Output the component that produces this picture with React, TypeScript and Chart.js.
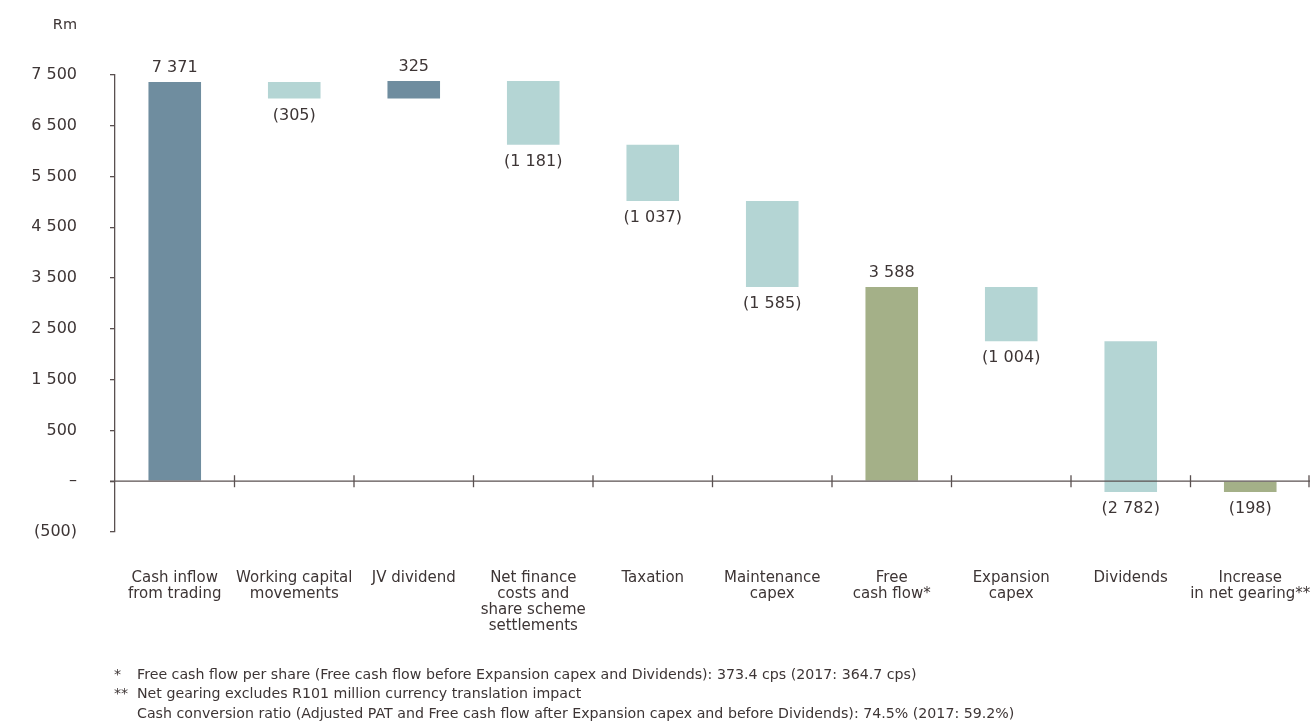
import React, { useEffect, useRef } from "react";
import { Chart, registerables } from "chart.js";

Chart.register(...registerables);

const categories: string[][] = [
  ["Cash inflow", "from trading"],
  ["Working capital", "movements"],
  ["JV dividend"],
  ["Net finance", "costs and", "share scheme", "settlements"],
  ["Taxation"],
  ["Maintenance", "capex"],
  ["Free", "cash flow*"],
  ["Expansion", "capex"],
  ["Dividends"],
  ["Increase", "in net gearing**"],
];
const changes = [7371, -305, 325, -1181, -1037, -1585, 3588, -1004, -2782, -198];
const kinds = ["inflow", "outflow", "inflow", "outflow", "outflow", "outflow", "total", "outflow", "outflow", "total"];
const tickStep = 937.5;
const tickLabels = ["(500)", "–", "500", "1 500", "2 500", "3 500", "4 500", "5 500", "6 500", "7 500"];
const unitLabel = "Rm";
const footnotes = [
  ["*", "Free cash flow per share (Free cash flow before Expansion capex and Dividends): 373.4 cps (2017: 364.7 cps)"],
  ["**", "Net gearing excludes R101 million currency translation impact"],
  ["", "Cash conversion ratio (Adjusted PAT and Free cash flow after Expansion capex and before Dividends): 74.5% (2017: 59.2%)"],
];

const COLORS: Record<string, string> = {
  inflow: "#6f8d9f",
  outflow: "#b4d5d4",
  total: "#a4b088",
};
const TEXT = "#3d3535";
const AXIS = "#5a5050";
const FONT = "'DejaVu Sans', sans-serif";

function fmt(v: number): string {
  const s = Math.abs(v).toString().replace(/\B(?=(\d{3})+(?!\d))/g, " ");
  return v < 0 ? `(${s})` : s;
}

function buildRanges(): [number, number][] {
  let run = 0;
  return changes.map((c, i) => {
    if (kinds[i] === "total") {
      run = c;
      return [0, c] as [number, number];
    }
    const start = run;
    run += c;
    return [start, run] as [number, number];
  });
}

export default function App() {
  const ref = useRef<HTMLCanvasElement | null>(null);
  useEffect(() => {
    if (!ref.current) return;
    const ranges = buildRanges();
    const overlay = {
      id: "overlay",
      afterDatasetsDraw(chart: any) {
        const ctx = chart.ctx;
        const x = chart.scales.x;
        const y = chart.scales.y;
        const y0 = y.getPixelForValue(0);
        ctx.save();
        // zero axis line
        ctx.strokeStyle = AXIS;
        ctx.lineWidth = 1.3;
        ctx.beginPath();
        ctx.moveTo(y.right - 5, y0);
        ctx.lineTo(chart.chartArea.right, y0);
        ctx.stroke();
        // boundary ticks
        for (let i = 1; i <= categories.length; i++) {
          const px = i < categories.length
            ? (x.getPixelForValue(i - 1) + x.getPixelForValue(i)) / 2
            : chart.chartArea.right - 1;
          ctx.beginPath();
          ctx.moveTo(px, y0 - 6);
          ctx.lineTo(px, y0 + 6);
          ctx.stroke();
        }
        // value labels
        const meta = chart.getDatasetMeta(0);
        ctx.fillStyle = TEXT;
        ctx.font = `16px ${FONT}`;
        ctx.textAlign = "center";
        meta.data.forEach((bar: any, i: number) => {
          const v = changes[i];
          const [a, b] = ranges[i];
          if (v >= 0) {
            ctx.textBaseline = "bottom";
            ctx.fillText(fmt(v), bar.x, y.getPixelForValue(Math.max(a, b)) - 6);
          } else {
            ctx.textBaseline = "top";
            ctx.fillText(fmt(v), bar.x, y.getPixelForValue(Math.min(a, b)) + 9);
          }
        });
        // unit label
        ctx.textAlign = "right";
        ctx.textBaseline = "middle";
        ctx.font = `14.5px ${FONT}`;
        ctx.fillText(unitLabel, 77, 25);
        // footnotes
        ctx.font = `14.2px ${FONT}`;
        ctx.textAlign = "left";
        footnotes.forEach((f, i) => {
          const yy = 675 + i * 19.5;
          ctx.fillText(f[0], 114, yy);
          ctx.fillText(f[1], 137, yy);
        });
        ctx.restore();
      },
    };
    const chart = new Chart(ref.current, {
      type: "bar",
      data: {
        labels: categories,
        datasets: [
          {
            data: ranges as any,
            backgroundColor: kinds.map((k) => COLORS[k]),
            borderWidth: 0,
            borderSkipped: false,
            barPercentage: 0.44,
            categoryPercentage: 1,
          },
        ],
      },
      options: {
        animation: false,
        responsive: true,
        maintainAspectRatio: false,
        layout: { padding: { top: 75, right: 3, left: 0, bottom: 0 } },
        plugins: { legend: { display: false }, tooltip: { enabled: false } },
        scales: {
          x: {
            grid: { display: false },
            border: { display: false },
            ticks: {
              color: TEXT,
              font: { family: FONT, size: 15, lineHeight: 16 / 15 } as any,
              padding: 30,
              maxRotation: 0,
              autoSkip: false,
            },
            afterFit: (s: any) => {
              s.height = 193;
              s.paddingLeft = 0;
              s.paddingRight = 0;
            },
          },
          y: {
            min: -tickStep,
            max: tickStep * 8,
            afterBuildTicks: (s: any) => {
              s.ticks = tickLabels.map((_, i) => ({ value: (i - 1) * tickStep }));
            },
            afterFit: (s: any) => {
              s.width = 115;
            },
            grid: { drawOnChartArea: false, tickLength: 5, color: AXIS, lineWidth: 1.3 },
            border: { display: true, color: AXIS, width: 1.3 },
            ticks: {
              color: TEXT,
              font: { family: FONT, size: 16 },
              padding: 33,
              callback: (_v: any, i: number) => tickLabels[i],
            },
          },
        },
      },
      plugins: [overlay],
    });
    return () => chart.destroy();
  }, []);
  return (
    <div style={{ position: "absolute", left: 0, top: 0, width: 1313, height: 725, background: "#fff" }}>
      <canvas ref={ref} />
    </div>
  );
}
